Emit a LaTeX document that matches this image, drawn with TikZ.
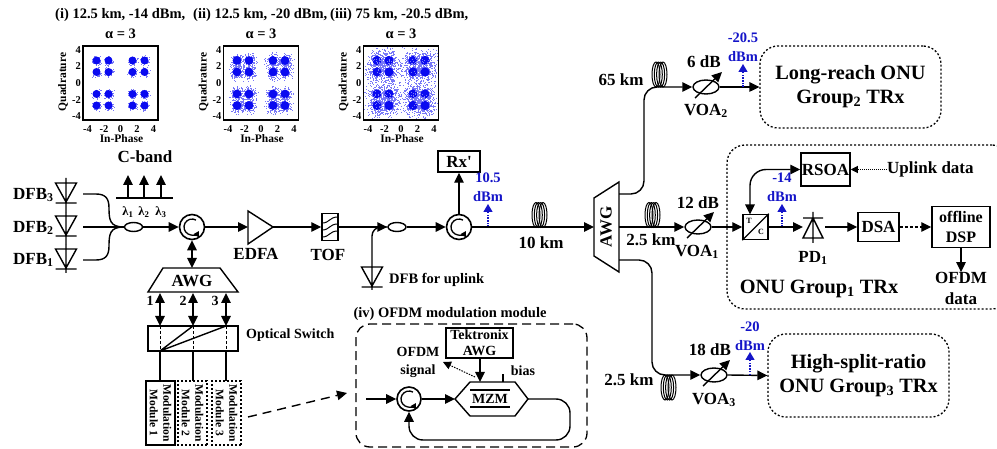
\documentclass[tikz,border=0pt]{standalone}
\usepackage{fontspec}
\setmainfont{Liberation Serif}
\newfontfamily\rxfont{Liberation Serif}
\usepackage{tikz}
\usetikzlibrary{arrows.meta,shapes.geometric}
\definecolor{pwrblue}{RGB}{20,20,200}
\definecolor{ptblue}{RGB}{10,10,240}
\tikzset{
  >={Triangle[length=10pt,width=9.5pt]},
  fib/.style={line width=1.4pt},
  txtl/.style={font=\fontsize{20.3}{24}\selectfont\bfseries,inner sep=0pt,align=center},
  txtm/.style={font=\fontsize{17}{20}\selectfont\bfseries,inner sep=0pt,align=center},
  txtc/.style={font=\fontsize{14.5}{17}\selectfont\bfseries,inner sep=0pt,align=center},
  txts/.style={font=\fontsize{14}{17}\selectfont\bfseries,inner sep=0pt,align=center},
  txtt/.style={font=\fontsize{11.5}{13.5}\selectfont\bfseries,inner sep=0pt,align=center},
  txtk/.style={font=\fontsize{10.5}{12}\selectfont\bfseries,inner sep=0pt},
  pwr/.style={txts,font=\fontsize{14.5}{17}\selectfont\bfseries,text=pwrblue},
  pwrarrow/.style={->,pwrblue,dash pattern=on 1.5pt off 1.2pt,line width=1.3pt,>={Triangle[length=8pt,width=9pt]}},
  circul/.style={draw,circle,line width=1.6pt,minimum size=25pt,inner sep=0pt},
  coup/.style={draw,ellipse,line width=1.4pt,minimum width=18pt,minimum height=9pt,inner sep=0pt},
  voa/.style={draw,ellipse,line width=1.4pt,minimum width=26pt,minimum height=14pt,inner sep=0pt},
  blk/.style={draw,line width=1.5pt,inner sep=0pt,align=center},
  group/.style={draw,line width=1.3pt,rounded corners=18pt,dash pattern=on 2pt off 2pt,inner sep=0pt,align=center},
}
\begin{document}
\begin{tikzpicture}[x=1pt,y=-1pt]
\useasboundingbox (0,0) rectangle (997,449);
\def\coil#1#2{\foreach \k in {4,6.3,8.6,11} {\draw[line width=1pt,shift={(#1+\k,#2)}] (0,-12.5) arc[start angle=90,end angle=450,x radius=4pt,y radius=12.5pt];}}
\def\circarc#1#2{\draw[line width=1.3pt,shift={(#1,#2)},-{Triangle[length=5.5pt,width=6pt]}] (4,-6.9) arc[start angle=60,end angle=330,radius=8pt];}
\def\slantarrow#1#2{\draw[->,fib,shift={(#1,#2)}] (-11,11) -- (16,-15);}
\def\diodedn#1#2#3#4{\draw[fib,shift={(#1,#2)}] (-10.5,0) -- (10.5,0) -- (0,19) -- cycle (-10.5,20) -- (10.5,20) (0,#3) -- (0,#4);}
% constellations: core disc plus random halo, one panel per power level
\pgfmathsetseed{11}
\foreach \n/\px/\sg/\rr/\cnt in {1/120.5/2.1/4.0/90,2/261/3.4/4.4/140,3/401/5.2/4.6/220} {
  \foreach \cx in {-24,-12,12,24} { \foreach \cy in {-22.5,-11,11,22.5} {
    \foreach \i in {1,...,\cnt} {\fill[ptblue!55] ({\px+\cx+\sg*(rand+rand+rand)},{83+\cy+\sg*(rand+rand+rand)}) rectangle ++(0.9,0.9);}
    \fill[ptblue] (\px+\cx,83+\cy) circle (\rr);
  }}
  \fill[white] (\px-44,40) rectangle (\px-37.5,126) (\px-37.5,120) rectangle (\px+44,126) (\px+37.5,40) rectangle (\px+44,120) (\px-37.5,40) rectangle (\px+37.5,46);
  \draw[line width=1.4pt] (\px-37.5,46) rectangle (\px+37.5,120);
  \foreach \t in {-4,-2,0,2,4} {
    \node[txtk] (xt\n\t) at (\px+\t*8.25,129) {\t};
    \node[txtk,anchor=east] (yt\n\t) at (\px-39.5,83-\t*8.3) {\t};
  }
  \node[txtt] (xlab\n) at (\px+1,139) {In-Phase};
  \node[txtt,rotate=90] (ylab\n) at (\px-57.5,82) {Quadrature};
  \node[txtc] (alpha\n) at (\px,34) {α = 3};
}
\node[txtc,anchor=west] (capi) at (55,15) {(i) 12.5 km, -14 dBm,};
\node[txtc,anchor=west] (capii) at (193,15) {(ii) 12.5 km, -20 dBm,};
\node[txtc,anchor=west] (capiii) at (330,15) {(iii) 75 km, -20.5 dBm,};
% sources and C-band comb
\node[txtm] (cband) at (145,157) {C-band};
\coordinate (combL) at (116,198); \coordinate (combR) at (173,198);
\draw[fib] (combL) -- (combR);
\foreach \n/\cx in {1/128,2/144,3/161} {
  \coordinate (lam\n) at (\cx,198); \coordinate (lamt\n) at (\cx,175);
  \draw[->,fib] (lam\n) -- (lamt\n);
  \node[font=\fontsize{12.5}{14}\selectfont\bfseries,inner sep=0pt] (lamb\n) at (\cx,212) {λ\textsubscript{\n}};
}
\diodedn{66}{183}{-5}{30}
\diodedn{66}{216}{-3}{29}
\diodedn{66}{249}{-4}{24}
\node[txtm,anchor=west] (dfbC) at (13,195) {DFB\textsubscript{3}};
\node[txtm,anchor=west] (dfbB) at (13,228) {DFB\textsubscript{2}};
\node[txtm,anchor=west] (dfbA) at (13,260) {DFB\textsubscript{1}};
\coordinate (outC) at (83,194); \coordinate (outB) at (83,227); \coordinate (outA) at (83,260);
\node[coup] (cplA) at (133.5,227) {};
\draw[fib] (outC) -- (96,194) .. controls (106,194) and (109,199) .. (109,208) .. controls (109,220) and (110,227) .. (cplA.west);
\draw[fib] (outA) -- (96,260) .. controls (106,260) and (109,255) .. (109,246) .. controls (109,234) and (110,227) .. (cplA.west);
\draw[fib] (outB) -- (cplA.west);
\node[circul] (cirA) at (192,227) {};
\circarc{192}{227}
\draw[->,fib] (cplA.east) -- (cirA.west);
% EDFA, filter, uplink seed
\coordinate (edfaI) at (248,227); \coordinate (edfaO) at (273,227);
\draw[fib] (248,211) -- (273,227) -- (248,244) -- cycle;
\node[txtm] (edfa) at (256,254) {EDFA};
\draw[->,fib] (cirA.east) -- (edfaI);
\node[blk,minimum width=16pt,minimum height=27pt] (tof) at (330,227) {};
\foreach \d in {-7,0,7} {\draw[line width=1pt] (322,227+\d+3) .. controls (330,227+\d+3) and (329,227+\d-3) .. (338,227+\d-3);}
\node[txtm] (toflab) at (328,255) {TOF};
\draw[->,fib] (edfaO) -- (tof.west);
\node[coup] (cplB) at (397,227) {};
\draw[->,fib] (tof.east) -- (cplB.west);
\diodedn{372}{267}{0}{23}
\coordinate (seed) at (372,267);
\draw[fib,rounded corners=9pt] (seed) -- (372,227) -- (cplB.west);
\node[txtc,anchor=west] (seedlab) at (389,280) {DFB for uplink};
\node[circul] (cirB) at (459,227) {};
\circarc{459}{227}
\draw[->,fib] (cplB.east) -- (cirB.west);
\node[blk,minimum width=42pt,minimum height=21pt,font=\fontsize{17}{20}\rxfont\bfseries] (rx) at (459,161.5) {Rx'};
\draw[->,fib] (cirB.north) -- (rx.south);
\coordinate (pwrA) at (488,227); \coordinate (pwrAt) at (488,204);
\draw[pwrarrow] (pwrA) -- (pwrAt);
\node[pwr] (pwrAv) at (488,187.5) {10.5\\[2pt]dBm};
\coil{532}{215}
\node[txtm] (km10) at (541,243) {10 km};
% feeder AWG and the three branches
\coordinate (awgI) at (594,227); \coordinate (awgU) at (619,194); \coordinate (awgM) at (619,227); \coordinate (awgD) at (619,260);
\draw[fib] (594,198) -- (619,182) -- (619,272) -- (594,256) -- cycle;
\node[txtm,rotate=90] (awgF) at (606,227) {AWG};
\draw[->,fib] (cirB.east) -- (awgI);
% long-reach branch
\node[voa] (voaB) at (706,87) {};
\draw[->,fib,rounded corners=13pt] (awgU) -- (644,194) -- (644,87) -- (voaB.west);
\coil{652}{74.5}
\slantarrow{706}{87}
\node[txtm] (dbB) at (704,62) {6 dB};
\node[txtm] (voaBl) at (706,111) {VOA\textsubscript{2}};
\node[txtm] (km65) at (621,80) {65 km};
\node[group,minimum width=181pt,minimum height=82pt,txtl] (grpB) at (850.5,87) {Long-reach ONU\\Group\textsubscript{2} TRx};
\draw[->,fib] (voaB.east) -- (grpB.west);
\coordinate (pwrB) at (743,87); \coordinate (pwrBt) at (743,64);
\draw[pwrarrow] (pwrB) -- (pwrBt);
\node[pwr] (pwrBv) at (743,47.5) {-20.5\\[2pt]dBm};
% ONU group 1
\node[voa] (voaA) at (698,227) {};
\draw[->,fib] (awgM) -- (voaA.west);
\coil{645}{215}
\slantarrow{698}{227}
\node[txtm] (dbA) at (698,203) {12 dB};
\node[txtm] (voaAl) at (697,252) {VOA\textsubscript{1}};
\node[txtm] (km25a) at (651,240) {2.5 km};
\node[group,minimum width=283pt,minimum height=164pt] (grpA) at (868.5,227) {};
\node[blk,minimum width=25pt,minimum height=25pt] (spl) at (755.5,227) {};
\draw[fib] (spl.south west) -- (spl.north east);
\draw[->,fib] (voaA.east) -- (spl.west);
\node[font=\fontsize{8}{9}\selectfont\bfseries,inner sep=0pt] (splC) at (761,232) {C};
\node[font=\fontsize{8}{9}\selectfont\bfseries,inner sep=0pt] (splT) at (749,221) {T};
\node[blk,minimum width=49pt,minimum height=33pt,font=\fontsize{17}{20}\selectfont\bfseries] (rsoa) at (825.5,169.5) {RSOA};
\coordinate (splUp) at (750,214.5);
\draw[<->,fib,rounded corners=16pt] (splUp) -- (750,169.5) -- (rsoa.west);
\node[pwr] (pwrCv) at (782,187.5) {-14\\[2pt]dBm};
\coordinate (pwrC) at (782,227); \coordinate (pwrCt) at (782,204);
\draw[pwrarrow] (pwrC) -- (pwrCt);
\node[txtm,anchor=west] (upl) at (887,169.5) {Uplink data};
\draw[->,line width=1pt,dash pattern=on 1pt off 1pt,>={Triangle[length=7pt,width=7pt]}] (upl.west) -- (rsoa.east);
\coordinate (pdI) at (803,227); \coordinate (pdO) at (825,227);
\draw[->,fib] (spl.east) -- (pdI);
\draw[fib] (803,238) -- (823,238) -- (813,218) -- cycle (803,218) -- (823,218) (813,212) -- (813,243);
\node[txtm] (pdl) at (813,258) {PD\textsubscript{1}};
\node[blk,minimum width=41pt,minimum height=29pt,font=\fontsize{17}{20}\selectfont\bfseries] (dsa) at (878.5,227) {DSA};
\draw[->,fib] (pdO) -- (dsa.west);
\node[blk,minimum width=58pt,minimum height=41pt,font=\fontsize{16}{20}\selectfont\bfseries] (dsp) at (961,227) {offline\\DSP};
\draw[->,fib,dash pattern=on 3pt off 2pt] (dsa.east) -- (dsp.west);
\node[txtm] (ofdmd) at (961,288.5) {OFDM\\[1pt]data};
\draw[->,fib] (dsp.south) -- (ofdmd.north);
\node[txtl] (grpAl) at (819,289) {ONU Group\textsubscript{1} TRx};
% high-split branch
\node[voa] (voaC) at (714,375) {};
\draw[->,fib,rounded corners=13pt] (awgD) -- (652,260) -- (652,375) -- (voaC.west);
\coil{661}{387.5}
\slantarrow{714}{375}
\node[txtm] (dbC) at (710,350) {18 dB};
\node[txtm] (voaCl) at (714,400) {VOA\textsubscript{3}};
\node[txtm] (km25b) at (629,380) {2.5 km};
\node[group,minimum width=181pt,minimum height=83pt,txtl] (grpC) at (858.5,375.5) {High-split-ratio\\ONU Group\textsubscript{3} TRx};
\draw[->,fib] (voaC.east) -- (grpC.west);
\coordinate (pwrD) at (750,375); \coordinate (pwrDt) at (750,352);
\draw[pwrarrow] (pwrD) -- (pwrDt);
\node[pwr] (pwrDv) at (750,336.5) {-20\\[2pt]dBm};
% modulation side: AWG, switch, modules
\coordinate (awgLt) at (192,268);
\draw[fib] (163,268) -- (220,268) -- (238,292) -- (148,292) -- cycle;
\node[txtm] (awgL) at (192,281) {AWG};
\draw[<->,fib] (cirA.south) -- (awgLt);
\node[blk,minimum width=90pt,minimum height=25pt] (osw) at (193,338.5) {};
\node[txts,anchor=west] (oswl) at (246,335) {Optical Switch};
\foreach \n/\cx/\lx in {1/160/150,2/193/183,3/226/215} {
  \coordinate (swt\n) at (\cx,326); \coordinate (swb\n) at (\cx,351); \coordinate (awgp\n) at (\cx,293);
  \draw[<->,fib] (swt\n) -- (awgp\n);
  \draw[line width=1pt,densely dashed] (swt\n) -- (swb\n);
  \node[txts] (pn\n) at (\lx,301) {\n};
}
\draw[fib] (swb1) -- (swt2) (swb1) -- (swt3);
\node[blk,minimum width=64pt,minimum height=29pt,rotate=-90,font=\fontsize{11.5}{13.5}\selectfont\bfseries] (modA) at (160.5,413) {Modulation\\Module 1};
\node[blk,line width=1.2pt,dash pattern=on 2pt off 2pt,minimum width=64pt,minimum height=29pt,rotate=-90,font=\fontsize{11.5}{13.5}\selectfont\bfseries] (modB) at (192.5,413) {Modulation\\Module 2};
\node[blk,line width=1.2pt,dash pattern=on 2pt off 2pt,minimum width=64pt,minimum height=29pt,rotate=-90,font=\fontsize{11.5}{13.5}\selectfont\bfseries] (modC) at (226.5,413) {Modulation\\Module 3};
\draw[fib] (swb1) -- (160,381);
\draw[fib] (swb2) -- (193,381);
\draw[fib] (swb3) -- (226,381);
\coordinate (zoomS) at (248,417); \coordinate (zoomE) at (347,393);
\draw[->,fib,dash pattern=on 9pt off 6pt] (zoomS) -- (zoomE);
% OFDM module inset
\node[txtc] (ofdmt) at (450,314) {(iv) OFDM modulation module};
\node[draw,line width=1.3pt,rounded corners=14pt,dash pattern=on 9pt off 5pt,minimum width=231pt,minimum height=123pt,inner sep=0pt] (ofdmb) at (471.5,385.5) {};
\node[blk,line width=1.3pt,minimum width=67pt,minimum height=30pt,font=\fontsize{14}{16}\selectfont\bfseries] (tek) at (479.5,343) {Tektronix\\AWG};
\node[txts] (ofdms) at (418,362.5) {OFDM\\[1pt]signal};
\node[txts] (biasl) at (523,371) {bias};
\node[circul,minimum size=24pt] (cirC) at (409,399) {};
\circarc{409}{399}
\coordinate (modin) at (366,399);
\draw[->,fib] (modin) -- (cirC.west);
\coordinate (mzmL) at (455,399); \coordinate (mzmR) at (528,399); \coordinate (mzmT) at (480,382); \coordinate (bias) at (503,374);
\draw[fib] (455,399) -- (470,382) -- (515,382) -- (528,399) -- (515,416) -- (470,416) -- cycle;
\node[txts] (mzm) at (490,399) {MZM};
\draw[fib] (470,390) -- (510,390) (470,407) -- (510,407);
\draw[->,fib] (cirC.east) -- (mzmL);
\draw[->,fib] (tek.south -| mzmT) -- (mzmT);
\draw[fib] (bias) -- (503,382);
\coordinate (ofdmst) at (475,377); \coordinate (ofdmse) at (443,362);
\draw[->,line width=1pt,dash pattern=on 1.5pt off 1.2pt,>={Triangle[length=8pt,width=8pt]}] (ofdmst) -- (ofdmse);
\draw[->,fib,rounded corners=14pt] (mzmR) -- (570,399) -- (570,440) -- (409,440) -- (cirC.south);
\end{tikzpicture}
\end{document}
